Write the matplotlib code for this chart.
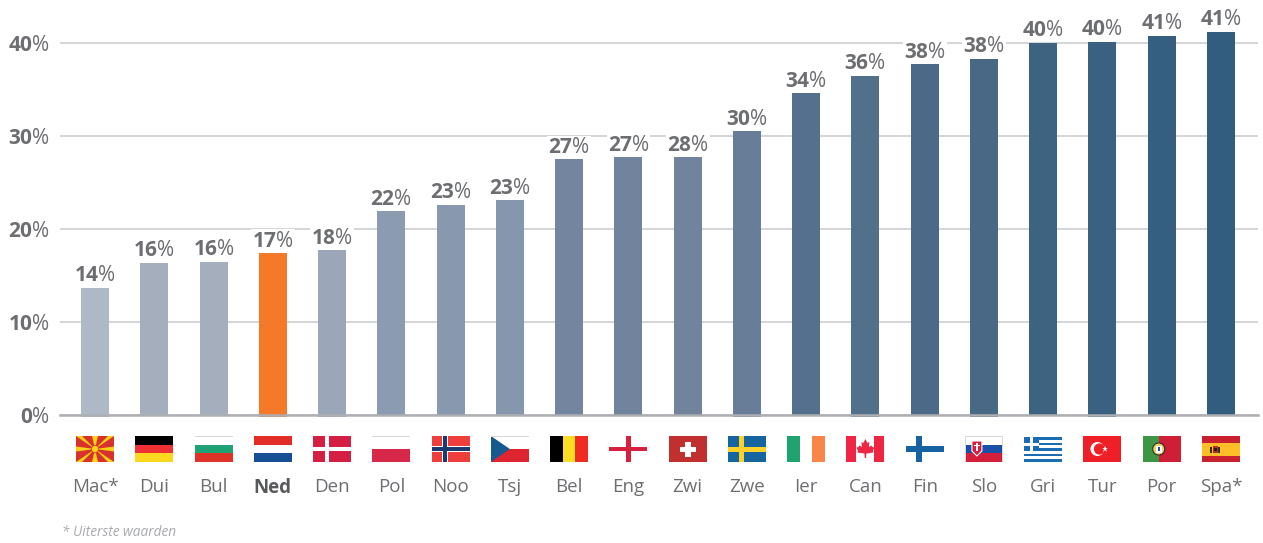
import matplotlib
matplotlib.use('Agg')
import matplotlib.pyplot as plt
from matplotlib.patches import Rectangle, Polygon, Circle

W, H = 1263, 543

countries = ['Mac*', 'Dui', 'Bul', 'Ned', 'Den', 'Pol', 'Noo', 'Tsj', 'Bel', 'Eng',
             'Zwi', 'Zwe', 'Ier', 'Can', 'Fin', 'Slo', 'Gri', 'Tur', 'Por', 'Spa*']
values = [13.66, 16.35, 16.45, 17.4, 17.7, 21.9, 22.6, 23.1, 27.5, 27.7,
          27.7, 30.5, 34.6, 36.5, 37.7, 38.3, 40.0, 40.1, 40.8, 41.2]
labels = [14, 16, 16, 17, 18, 22, 23, 23, 27, 27, 28, 30, 34, 36, 38, 38, 40, 40, 41, 41]
colors = ['#aeb8c7', '#a5aebd', '#a5aebd', '#f47a2a', '#9ba7b8', '#8b9bb0', '#8898ae',
          '#8696ad', '#74869f', '#71839d', '#71839d', '#687d97', '#55708d', '#527089',
          '#4c6a87', '#486884', '#3d6381', '#3a617f', '#355f80', '#335d7e']
overhang = [0.2, 0, 0, 0.2, 0.2, 0, 0, 0, 0, 0, 0, 0.2, 0, 0.2, 0, 0.2, 0, 0.2, 0, 0]
yticks = [0, 10, 20, 30, 40]

GREY = '#6d6e71'


def rect(ax, x, y, w, h, c):
    ax.add_patch(Rectangle((x, y), w, h, fc=c, ec='none'))


def hstripes(ax, cols):
    h = 26 / len(cols)
    for i, c in enumerate(cols):
        rect(ax, 0, i * h, 38, h, c)


def vstripes(ax, cols):
    w = 38 / len(cols)
    for i, c in enumerate(cols):
        rect(ax, i * w, 0, w, 26, c)


def cross(ax, cx, t, c):
    rect(ax, cx - t / 2, 0, t, 26, c)
    rect(ax, 0, 13 - t / 2, 38, t, c)


def border(ax, left=False, right=False):
    rect(ax, 0, 0, 38, 0.7, '#d8d8d8')
    if left:
        rect(ax, 0, 0, 0.7, 26, '#d8d8d8')
    if right:
        rect(ax, 37.3, 0, 0.7, 26, '#d8d8d8')


def mac(ax):
    rect(ax, 0, 0, 38, 26, '#d8322f')
    y = '#fcd116'
    for pts in [[(0, 0), (6, 0), (19, 13)], [(38, 0), (32, 0), (19, 13)],
                [(0, 26), (6, 26), (19, 13)], [(38, 26), (32, 26), (19, 13)],
                [(16, 0), (22, 0), (19, 13)], [(16, 26), (22, 26), (19, 13)],
                [(0, 10.5), (0, 15.5), (19, 13)], [(38, 10.5), (38, 15.5), (19, 13)]]:
        ax.add_patch(Polygon(pts, fc=y, ec='none'))
    ax.add_patch(Circle((19, 13), 3.6, fc=y, ec='#d8322f', lw=0.5))


def dui(ax):
    hstripes(ax, ['#000000', '#ee3034', '#fcd720'])


def bul(ax):
    hstripes(ax, ['#ffffff', '#1fa374', '#e03327'])
    border(ax, left=True)


def ned(ax):
    hstripes(ax, ['#e22d28', '#ffffff', '#164f93'])


def den(ax):
    rect(ax, 0, 0, 38, 26, '#d41e44')
    rect(ax, 12, 0, 4, 26, '#ffffff')
    rect(ax, 0, 11, 38, 4, '#ffffff')


def pol(ax):
    hstripes(ax, ['#ffffff', '#d7284a'])
    border(ax, right=True)


def noo(ax):
    rect(ax, 0, 0, 38, 26, '#ef3f3c')
    rect(ax, 10, 0, 6.5, 26, '#ffffff')
    rect(ax, 0, 9.7, 38, 6.5, '#ffffff')
    rect(ax, 11.3, 0, 3.8, 26, '#1c3a6e')
    rect(ax, 0, 11.1, 38, 3.8, '#1c3a6e')


def tsj(ax):
    hstripes(ax, ['#ffffff', '#de2430'])
    ax.add_patch(Polygon([(0, 0), (19, 13), (0, 26)], fc='#17598f', ec='none'))
    border(ax)


def bel(ax):
    vstripes(ax, ['#000000', '#fbde22', '#ef2b24'])


def eng(ax):
    cross(ax, 19, 4.5, '#d81f3e')
    rect(ax, 37.3, 0, 0.7, 26, '#d8d8d8')


def zwi(ax):
    rect(ax, 0, 0, 38, 26, '#c1302f')
    rect(ax, 16.5, 6, 5.5, 15, '#ffffff')
    rect(ax, 11.5, 10.5, 15.5, 5.5, '#ffffff')


def zwe(ax):
    rect(ax, 0, 0, 38, 26, '#17659f')
    rect(ax, 11.5, 0, 5, 26, '#fcd22a')
    rect(ax, 0, 10.5, 38, 5, '#fcd22a')


def ier(ax):
    vstripes(ax, ['#1fa36f', '#ffffff', '#f9854b'])


def can(ax):
    rect(ax, 0, 0, 10, 26, '#ee2644')
    rect(ax, 28, 0, 10, 26, '#ee2644')
    leaf = [(19, 3), (21, 7), (23, 6), (22.5, 11), (25, 9.5), (26, 11), (28, 11.5), (26.5, 15),
            (27, 16.5), (20, 17.5), (19.6, 22), (18.4, 22), (18, 17.5), (11, 16.5), (11.5, 15),
            (10, 11.5), (12, 11), (13, 9.5), (15.5, 11), (15, 6), (17, 7)]
    ax.add_patch(Polygon(leaf, fc='#ee2644', ec='none'))


def fin(ax):
    cross(ax, 13.5, 6.5, '#1662a2')


def slo(ax):
    hstripes(ax, ['#ffffff', '#1b50a8', '#d31f3c'])
    border(ax, left=True, right=True)
    ax.add_patch(Polygon([(7, 5), (17, 5), (17, 15), (12, 20), (7, 15)],
                         fc='#d31f3c', ec='#ffffff', lw=0.8))
    rect(ax, 11.2, 7, 1.6, 8, '#ffffff')
    rect(ax, 9, 9, 6, 1.4, '#ffffff')


def gri(ax):
    for i in range(9):
        rect(ax, 0, 1 + i * 2.78, 38, 2.78, '#1a6cb3' if i % 2 == 0 else '#ffffff')
    rect(ax, 0, 1, 15, 14, '#1a6cb3')
    rect(ax, 5.8, 1, 3.2, 14, '#ffffff')
    rect(ax, 0, 6.5, 15, 3, '#ffffff')


def tur(ax):
    rect(ax, 0, 0, 38, 26, '#ee1f26')
    ax.add_patch(Circle((14, 13), 7, fc='#ffffff', ec='none'))
    ax.add_patch(Circle((16, 13), 5.6, fc='#ee1f26', ec='none'))
    ax.plot([22], [13], marker='*', ms=4.5, color='#ffffff', mew=0)


def por(ax):
    rect(ax, 0, 0, 16, 26, '#3d9646')
    rect(ax, 16, 0, 22, 26, '#ce1f36')
    ax.add_patch(Circle((16, 13), 6, fc='#e8d36a', ec='#222222', lw=0.7))
    rect(ax, 13, 9.5, 6, 7, '#ffffff')
    rect(ax, 14.8, 11, 2.4, 4, '#2b4b8c')


def spa(ax):
    rect(ax, 0, 0, 38, 26, '#c8202f')
    rect(ax, 0, 7, 38, 13, '#fdbe26')
    rect(ax, 8.5, 10.5, 2, 6, '#3a2a20')
    rect(ax, 11, 9.5, 5, 7.5, '#b5312b')
    rect(ax, 16.5, 10.5, 2, 6, '#3a2a20')
    rect(ax, 12, 11.5, 3, 3, '#222222')


flags = [mac, dui, bul, ned, den, pol, noo, tsj, bel, eng,
         zwi, zwe, ier, can, fin, slo, gri, tur, por, spa]


def plot():
    plt.rcParams['font.family'] = ['Open Sans', 'DejaVu Sans']
    plt.rcParams['mathtext.fontset'] = 'custom'
    plt.rcParams['mathtext.rm'] = 'Open Sans'
    plt.rcParams['mathtext.bf'] = 'Open Sans:bold'

    fig = plt.figure(figsize=(W / 100, H / 100), dpi=100)
    ax = fig.add_axes([60 / W, (H - 415) / H, 1198 / W, 410 / H])

    ax.set_xlim(-0.591, 19.625)
    ax.set_ylim(0, 410 / 9.3)

    xs = list(range(len(values)))
    bottoms = [-o for o in overhang]
    heights = [v + o for v, o in zip(values, overhang)]
    ax.bar(xs, heights, bottom=bottoms, width=0.473, color=colors, zorder=2, clip_on=False)

    for x, v, l in zip(xs, values, labels):
        ax.annotate(r'$\mathbf{%d}$%%' % l, (x, v), xytext=(0, 1.2), textcoords='offset points',
                    ha='center', va='bottom', fontsize=15, color=GREY, zorder=3,
                    bbox=dict(fc='white', ec='none', pad=0.8))

    ax.set_yticks(yticks)
    ax.set_yticklabels([r'$\mathbf{%d}$%%' % t for t in yticks], fontsize=15, color=GREY)
    ax.yaxis.grid(True, color='#c9cacc', lw=1.1, zorder=1)
    ax.set_axisbelow(True)
    ax.axhline(0, color='#aeafb2', lw=1.8, zorder=4, clip_on=False)

    ax.set_xticks(xs)
    ax.set_xticklabels(countries, fontsize=13.5, color=GREY)
    ax.get_xticklabels()[3].set_fontweight('bold')
    ax.get_xticklabels()[3].set_color('#58595b')
    ax.tick_params(axis='x', length=0, pad=45.5)
    ax.tick_params(axis='y', length=0, pad=7)
    for s in ax.spines.values():
        s.set_visible(False)

    # flags sit in their own small axes under each bar
    for x, draw in zip(xs, flags):
        px = ax.transData.transform((x, 0))[0]
        fa = fig.add_axes([(px - 19) / W, (H - 462) / H, 38 / W, 26 / H])
        fa.set_xlim(0, 38)
        fa.set_ylim(26, 0)
        fa.axis('off')
        draw(fa)

    fig.text(62 / W, (H - 532) / H, '* Uiterste waarden', fontsize=9.8, style='italic',
             color='#a7a9ac', ha='left', va='center')

    fig.savefig('out.png', dpi=100)


def main(argv=None):
    plot()


if __name__ == "__main__":
    main()
